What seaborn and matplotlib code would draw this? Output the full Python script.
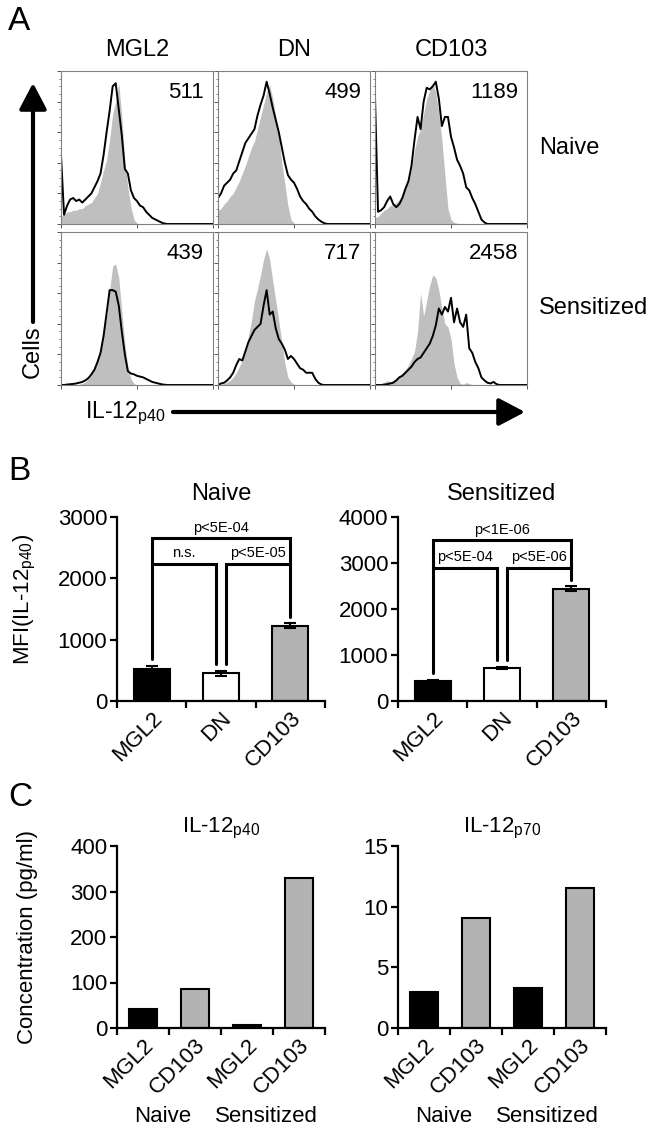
import numpy as np
import pandas as pd
import seaborn as sns
import matplotlib.pyplot as plt
from matplotlib.ticker import MultipleLocator
from matplotlib.transforms import ScaledTranslation

sns.set_style("ticks")
plt.rcParams['font.family'] = ['Liberation Sans', 'DejaVu Sans']
plt.rcParams['mathtext.default'] = 'regular'
plt.rcParams.update({"text.color": "black", "axes.labelcolor": "black",
                     "xtick.color": "black", "ytick.color": "black",
                     "axes.edgecolor": "black"})

# ---------------- data ----------------
# A: FACS histograms, height in % of panel, 51 bins along a log axis
hist_cols = ["MGL2", "DN", "CD103"]
hist_rows = ["Naive", "Sensitized"]
hist_mfi = [["511", "499", "1189"], ["439", "717", "2458"]]

mgl2_naive_line = [45, 6, 12, 16, 17, 15, 16, 14, 16, 18,
                   20, 24, 28, 33, 45, 60, 74, 90, 92, 75,
                   58, 36, 33, 22, 17, 15, 12, 11, 8, 6,
                   4, 3, 2, 1, 0.3, 0, 0, 0, 0, 0,
                   0, 0, 0, 0, 0, 0, 0, 0, 0, 0, 0]
mgl2_naive_fill = [5, 6, 8, 8, 9, 9, 10, 10, 12, 13,
                   14, 17, 20, 27, 35, 42, 55, 72, 80, 92,
                   70, 41, 24, 11, 3, 0.5, 0, 0, 0, 0,
                   0, 0, 0, 0, 0, 0, 0, 0, 0, 0,
                   0, 0, 0, 0, 0, 0, 0, 0, 0, 0, 0]
dn_naive_line = [17, 20, 25, 27, 29, 33, 35, 41, 47, 53,
                 56, 59, 62, 71, 78, 84, 93, 85, 76, 68,
                 60, 50, 40, 32, 29, 27, 23, 18, 15, 13,
                 10, 8, 5, 3, 1.5, 0.5, 0, 0, 0, 0,
                 0, 0, 0, 0, 0, 0, 0, 0, 0, 0, 0]
dn_naive_fill = [9, 10, 13, 15, 18, 20, 24, 28, 33, 38,
                 44, 50, 54, 62, 70, 78, 86, 91, 82, 70,
                 58, 40, 26, 12, 3, 0.5, 0, 0, 0, 0,
                 0, 0, 0, 0, 0, 0, 0, 0, 0, 0,
                 0, 0, 0, 0, 0, 0, 0, 0, 0, 0, 0]
cd103_naive_line = [83, 8, 9, 11, 15, 18, 13, 11, 13, 17,
                    23, 28, 38, 55, 70, 62, 80, 89, 88, 90,
                    93, 82, 64, 70, 70, 57, 50, 42, 38, 33,
                    24, 22, 17, 13, 8, 3, 1, 0, 0, 0,
                    0, 0, 0, 0, 0, 0, 0, 0, 0, 0, 0]
cd103_naive_fill = [4, 5, 7, 9, 10, 12, 13, 14, 16, 20,
                    24, 29, 36, 48, 57, 62, 72, 82, 87, 92,
                    86, 72, 55, 32, 10, 3, 1, 0.5, 0, 0,
                    0, 0, 0, 0, 0, 0, 0, 0, 0, 0,
                    0, 0, 0, 0, 0, 0, 0, 0, 0, 0, 0]
mgl2_sens_line = [0, 0, 0.3, 0.5, 0.7, 1, 1.5, 2, 3, 4.5,
                  7, 10, 15, 21, 32, 47, 62, 62, 61, 52,
                  35, 20, 9, 7.5, 7, 6, 5.5, 5, 4, 3,
                  2, 1.5, 1, 0.5, 0.2, 0, 0, 0, 0, 0,
                  0, 0, 0, 0, 0, 0, 0, 0, 0, 0, 0]
mgl2_sens_fill = [0, 0, 0, 0, 0, 0, 0.5, 1, 2, 4,
                  7, 11, 17, 24, 35, 45, 62, 78, 79, 70,
                  48, 27, 12, 4, 1, 0, 0, 0, 0, 0,
                  0, 0, 0, 0, 0, 0, 0, 0, 0, 0,
                  0, 0, 0, 0, 0, 0, 0, 0, 0, 0, 0]
dn_sens_line = [0, 1, 1.5, 3, 5, 8, 13, 17, 16, 22,
                28, 32, 36, 38, 40, 52, 62, 46, 48, 37,
                30, 27, 23, 17, 19, 17, 14, 11, 10, 8,
                8, 8, 4, 1.5, 0.3, 0, 0, 0, 0, 0,
                0, 0, 0, 0, 0, 0, 0, 0, 0, 0, 0]
dn_sens_fill = [0, 0.5, 1, 2, 3, 5, 8, 12, 16, 22,
                32, 42, 55, 63, 72, 82, 89, 82, 68, 55,
                42, 28, 14, 5, 2, 0.5, 0, 0, 0, 0,
                0, 0, 0, 0, 0, 0, 0, 0, 0, 0,
                0, 0, 0, 0, 0, 0, 0, 0, 0, 0, 0]
cd103_sens_line = [0, 0, 0, 0.3, 0.5, 1, 1.5, 3, 5, 6,
                   8, 10, 12, 15, 17, 18, 21, 24, 27, 32,
                   39, 50, 46, 51, 48, 57, 41, 50, 41, 38,
                   46, 24, 21, 15, 11, 5, 3, 1.5, 1, 2,
                   0.5, 0, 0, 0, 0, 0, 0, 0, 0, 0, 0]
cd103_sens_fill = [0, 0, 0.5, 1.5, 3, 2, 3, 4, 6, 8,
                   10, 13, 17, 22, 35, 60, 45, 55, 65, 72,
                   70, 62, 50, 40, 38, 30, 14, 5, 1, 0.5,
                   1.5, 1, 0, 0, 0, 0, 0, 0, 0, 0,
                   0, 0, 0, 0, 0, 0, 0, 0, 0, 0, 0]

hist_lines = [[mgl2_naive_line, dn_naive_line, cd103_naive_line],
              [mgl2_sens_line, dn_sens_line, cd103_sens_line]]
hist_fills = [[mgl2_naive_fill, dn_naive_fill, cd103_naive_fill],
              [mgl2_sens_fill, dn_sens_fill, cd103_sens_fill]]

# B: MFI bars
b_cells = ["MGL2", "DN", "CD103"]
b_colors = ["black", "white", "#b3b3b3"]
b_naive_mfi = [520, 455, 1230]
b_naive_err = [55, 40, 40]
b_sens_mfi = [440, 720, 2440]
b_sens_err = [20, 25, 50]
b_naive_p = ["n.s.", "p<5E-05", "p<5E-04"]
b_sens_p = ["p<5E-04", "p<5E-06", "p<1E-06"]
b_naive_bracket_y = [2240, 2650]
b_sens_bracket_y = [2900, 3500]

# C: ELISA
c_cells = ["MGL2", "CD103", "MGL2", "CD103"]
c_groups = ["Naive", "Naive", "Sensitized", "Sensitized"]
c_colors = ["black", "#b3b3b3", "black", "#b3b3b3"]
c_p40 = [42, 86, 7, 330]
c_p70 = [3.0, 9.1, 3.3, 11.5]

# ---------------- figure ----------------
W, H = 652, 1131
fig = plt.figure(figsize=(W / 100, H / 100), dpi=100)


def px_axes(x0, y0, x1, y1, **kw):
    return fig.add_axes([x0 / W, 1 - y1 / H, (x1 - x0) / W, (y1 - y0) / H], **kw)


# overlay in pixel coordinates for arrows
ov = px_axes(0, 0, W, H, zorder=-1)
ov.set_xlim(0, W)
ov.set_ylim(H, 0)
ov.axis("off")

# panel letters
for letter, ytop in [("A", 6), ("B", 456), ("C", 782)]:
    fig.text(8 / W, 1 - ytop / H, letter, fontsize=24, va="top", ha="left")

# ---- A ----
hist_bins = np.logspace(0, 4, 51)
col_left = [61, 218, 375]
row_top = [71, 232]
box_w, box_h = 152, 153

for j, name in enumerate(hist_cols):
    fig.text((col_left[j] + box_w / 2) / W, 1 - 50 / H, name,
             fontsize=17, ha="center", va="center")
for i, name in enumerate(hist_rows):
    fig.text(539 / W, 1 - (row_top[i] + box_h / 2) / H, name,
             fontsize=17, ha="left", va="center")

for i in range(2):
    for j in range(3):
        ax = px_axes(col_left[j], row_top[i], col_left[j] + box_w, row_top[i] + box_h)
        ax.fill_between(hist_bins, hist_fills[i][j], color="#bfbfbf", lw=0)
        sns.lineplot(x=hist_bins, y=hist_lines[i][j], color="black",
                     linewidth=1.4, ax=ax)
        ax.set_xscale("log")
        ax.set_xlim(1, 1e4)
        ax.set_ylim(0, 100)
        ax.yaxis.set_major_locator(MultipleLocator(20))
        ax.yaxis.set_minor_locator(MultipleLocator(5))
        ax.tick_params(which="major", length=3, width=0.7, color="#555555",
                       labelbottom=False, labelleft=False)
        ax.tick_params(which="minor", length=1.5, width=0.5, color="#555555")
        for s in ax.spines.values():
            s.set_color("#808080")
            s.set_linewidth(0.8)
        ax.set_xlabel("")
        ax.set_ylabel("")
        ax.text(0.94, 0.93, hist_mfi[i][j], transform=ax.transAxes,
                ha="right", va="top", fontsize=16)

arrow_style = "-|>,head_length=0.8,head_width=0.42"
ov.annotate("", xy=(33, 83), xytext=(33, 322),
            arrowprops=dict(arrowstyle=arrow_style, lw=3, color="black",
                            mutation_scale=20, shrinkA=0, shrinkB=0))
ov.text(33, 352, "Cells", rotation=90, fontsize=17, ha="center", va="center")
ov.annotate("", xy=(525, 412), xytext=(173, 412),
            arrowprops=dict(arrowstyle=arrow_style, lw=3, color="black",
                            mutation_scale=20, shrinkA=0, shrinkB=0))
ov.text(85, 418, "IL-12$_{p40}$", fontsize=16.5, ha="left", va="baseline")


# ---- bar helper ----
def bar_panel(ax, keys, labels, vals, colors, ymax, step):
    df = pd.DataFrame({"key": keys, "val": vals})
    sns.barplot(data=df, x="key", y="val", hue="key", order=keys, hue_order=keys,
                palette=dict(zip(keys, colors)), width=0.52, saturation=1,
                edgecolor="black", linewidth=1.5, errorbar=None, legend=False, ax=ax)
    n = len(keys)
    ax.set_xlim(-0.5, n - 0.5)
    ax.set_ylim(0, ymax)
    ax.set_yticks(np.arange(0, ymax + step / 2, step))
    ax.set_xticks(range(n))
    ax.set_xticklabels(labels, rotation=45, ha="right", va="top",
                       rotation_mode="anchor", fontsize=16)
    shift = ScaledTranslation(5 / 72, 0, fig.dpi_scale_trans)
    for lab in ax.get_xticklabels():
        lab.set_transform(lab.get_transform() + shift)
    ax.set_xticks(np.arange(n + 1) - 0.5, minor=True)
    ax.tick_params(axis="x", which="major", length=0, pad=5)
    ax.tick_params(axis="x", which="minor", length=5, width=1.6, direction="out")
    ax.tick_params(axis="y", length=5, width=1.6, labelsize=16, pad=2)
    for s in ["left", "bottom"]:
        ax.spines[s].set_linewidth(1.6)
    sns.despine(ax=ax)
    ax.set_xlabel("")
    ax.set_ylabel("")


def brackets(ax, vals, errs, ys, texts, ymax):
    gap = 0.035 * ymax
    tops = [v + e + gap for v, e in zip(vals, errs)]
    off = 0.07
    lo, hi = ys
    kw = dict(color="black", lw=2.2, clip_on=False, solid_joinstyle="miter")
    ax.plot([0, 0, 1 - off, 1 - off], [tops[0], lo, lo, tops[1]], **kw)
    ax.plot([1 + off, 1 + off, 2, 2], [tops[1], lo, lo, tops[2]], **kw)
    ax.plot([0, 0, 2, 2], [lo, hi, hi, lo], **kw)
    tkw = dict(textcoords="offset points", xytext=(0, 2.5), ha="center",
               va="bottom", fontsize=10.5)
    ax.annotate(texts[0], xy=((1 - off) / 2, lo), **tkw)
    ax.annotate(texts[1], xy=((1 + off + 2) / 2, lo), **tkw)
    ax.annotate(texts[2], xy=(1, hi), **tkw)


# ---- B ----
axb1 = px_axes(117, 517, 325, 701)
bar_panel(axb1, b_cells, b_cells, b_naive_mfi, b_colors, 3000, 1000)
axb1.errorbar(range(3), b_naive_mfi, yerr=b_naive_err, fmt="none", ecolor="black",
              elinewidth=1.5, capsize=4, capthick=1.5)
brackets(axb1, b_naive_mfi, b_naive_err, b_naive_bracket_y, b_naive_p, 3000)
axb1.set_title("Naive", fontsize=17, pad=12)
axb1.set_ylabel("MFI(IL-12$_{p40}$)", fontsize=16)
axb1.yaxis.set_label_coords(-0.38, 0.55)

axb2 = px_axes(398, 517, 606, 701)
bar_panel(axb2, b_cells, b_cells, b_sens_mfi, b_colors, 4000, 1000)
axb2.errorbar(range(3), b_sens_mfi, yerr=b_sens_err, fmt="none", ecolor="black",
              elinewidth=1.5, capsize=4, capthick=1.5)
brackets(axb2, b_sens_mfi, b_sens_err, b_sens_bracket_y, b_sens_p, 4000)
axb2.set_title("Sensitized", fontsize=17, pad=12)

# ---- C ----
c_keys = [g + " " + c for g, c in zip(c_groups, c_cells)]

axc1 = px_axes(117, 846, 325, 1028)
bar_panel(axc1, c_keys, c_cells, c_p40, c_colors, 400, 100)
axc1.set_title("IL-12$_{p40}$", fontsize=16, pad=10)
axc1.set_ylabel("Concentration (pg/ml)", fontsize=16)
axc1.yaxis.set_label_coords(-0.38, 0.5)

axc2 = px_axes(398, 846, 606, 1028)
bar_panel(axc2, c_keys, c_cells, c_p70, c_colors, 15, 5)
axc2.set_title("IL-12$_{p70}$", fontsize=16, pad=10)

for ax in (axc1, axc2):
    ax.text(0.22, -0.485, "Naive", transform=ax.transAxes, ha="center",
            va="center", fontsize=16)
    ax.text(0.72, -0.485, "Sensitized", transform=ax.transAxes, ha="center",
            va="center", fontsize=16)

fig.savefig("out.png", dpi=100)
